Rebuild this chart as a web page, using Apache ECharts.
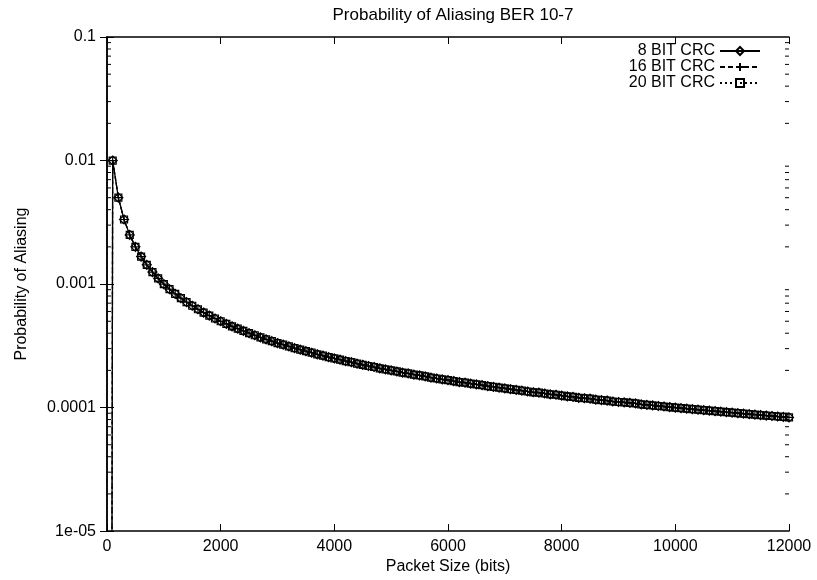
<!DOCTYPE html>
<html>
<head>
<meta charset="utf-8">
<script src="https://cdn.jsdelivr.net/npm/echarts@6/dist/echarts.min.js"></script>
<style>
  html, body { margin: 0; padding: 0; background: #fff; }
  #chart { width: 817px; height: 580px; }
</style>
</head>
<body>
<div id="chart"></div>
<script>
// packet sizes in bits (x), sampled every 100 bits
var packetSizes = [
  0, 100, 200, 300, 400, 500, 600, 700, 800, 900,
  1000, 1100, 1200, 1300, 1400, 1500, 1600, 1700, 1800, 1900,
  2000, 2100, 2200, 2300, 2400, 2500, 2600, 2700, 2800, 2900,
  3000, 3100, 3200, 3300, 3400, 3500, 3600, 3700, 3800, 3900,
  4000, 4100, 4200, 4300, 4400, 4500, 4600, 4700, 4800, 4900,
  5000, 5100, 5200, 5300, 5400, 5500, 5600, 5700, 5800, 5900,
  6000, 6100, 6200, 6300, 6400, 6500, 6600, 6700, 6800, 6900,
  7000, 7100, 7200, 7300, 7400, 7500, 7600, 7700, 7800, 7900,
  8000, 8100, 8200, 8300, 8400, 8500, 8600, 8700, 8800, 8900,
  9000, 9100, 9200, 9300, 9400, 9500, 9600, 9700, 9800, 9900,
  10000, 10100, 10200, 10300, 10400, 10500, 10600, 10700, 10800, 10900,
  11000, 11100, 11200, 11300, 11400, 11500, 11600, 11700, 11800, 11900,
  12000
];

// probability of aliasing; the first point sits far below the axis
var crc8 = [
  1e-27, 0.01, 0.005, 0.00333, 0.0025, 0.002, 0.00167, 0.00143, 0.00125, 0.00111,
  0.001, 9.09e-4, 8.33e-4, 7.69e-4, 7.14e-4, 6.67e-4, 6.25e-4, 5.88e-4, 5.56e-4, 5.26e-4,
  5.0e-4, 4.76e-4, 4.55e-4, 4.35e-4, 4.17e-4, 4.0e-4, 3.85e-4, 3.7e-4, 3.57e-4, 3.45e-4,
  3.33e-4, 3.23e-4, 3.13e-4, 3.03e-4, 2.94e-4, 2.86e-4, 2.78e-4, 2.7e-4, 2.63e-4, 2.56e-4,
  2.5e-4, 2.44e-4, 2.38e-4, 2.33e-4, 2.27e-4, 2.22e-4, 2.17e-4, 2.13e-4, 2.08e-4, 2.04e-4,
  2.0e-4, 1.96e-4, 1.92e-4, 1.89e-4, 1.85e-4, 1.82e-4, 1.79e-4, 1.75e-4, 1.72e-4, 1.69e-4,
  1.67e-4, 1.64e-4, 1.61e-4, 1.59e-4, 1.56e-4, 1.54e-4, 1.52e-4, 1.49e-4, 1.47e-4, 1.45e-4,
  1.43e-4, 1.41e-4, 1.39e-4, 1.37e-4, 1.35e-4, 1.33e-4, 1.32e-4, 1.3e-4, 1.28e-4, 1.27e-4,
  1.25e-4, 1.23e-4, 1.22e-4, 1.2e-4, 1.19e-4, 1.18e-4, 1.16e-4, 1.15e-4, 1.14e-4, 1.12e-4,
  1.11e-4, 1.1e-4, 1.09e-4, 1.08e-4, 1.06e-4, 1.05e-4, 1.04e-4, 1.03e-4, 1.02e-4, 1.01e-4,
  1.0e-4, 9.9e-5, 9.8e-5, 9.71e-5, 9.62e-5, 9.52e-5, 9.43e-5, 9.35e-5, 9.26e-5, 9.17e-5,
  9.09e-5, 9.01e-5, 8.93e-5, 8.85e-5, 8.77e-5, 8.7e-5, 8.62e-5, 8.55e-5, 8.47e-5, 8.4e-5,
  8.33e-5
];
// the 16 and 20 bit curves lie on top of the 8 bit one in the picture
var crc16 = crc8.slice();
var crc20 = crc8.slice();

var seriesNames = ['8 BIT CRC', '16 BIT CRC', '20 BIT CRC'];
var xTicks = [0, 2000, 4000, 6000, 8000, 10000, 12000];
var yTickLabels = ['1e-05', '0.0001', '0.001', '0.01', '0.1'];
var yDecades = [-5, -4, -3, -2];
var minorSteps = [2, 3, 4, 5, 6, 7, 8, 9];

var FONT = '"Liberation Sans", Arial, Helvetica, sans-serif';

function pairs(ys) {
  return packetSizes.map(function (x, i) { return [x, ys[i]]; });
}

// gnuplot style minor ticks for the log axis
var minorTicks = [];
yDecades.forEach(function (d) {
  minorSteps.forEach(function (m) {
    minorTicks.push([0, m * Math.pow(10, d)]);
  });
});

var chart = echarts.init(document.getElementById('chart'), null, { renderer: 'canvas' });

var axisLine = { show: true, lineStyle: { color: '#000', width: 1.5 } };
var majorTick = { show: true, inside: true, length: 7, lineStyle: { color: '#000', width: 1 } };
var xMax = xTicks[xTicks.length - 1];

var option = {
  backgroundColor: '#fff',
  animation: false,
  textStyle: { fontFamily: FONT, color: '#000' },
  title: {
    text: 'Probability of Aliasing BER 10-7',
    left: 448,
    top: 2,
    textAlign: 'center',
    textStyle: { fontFamily: FONT, fontSize: 17, fontWeight: 'normal', color: '#000' }
  },
  legend: {
    data: seriesNames,
    orient: 'vertical',
    align: 'right',
    right: 51,
    top: 38,
    itemWidth: 40,
    itemHeight: 10,
    itemGap: 0,
    textStyle: { fontFamily: FONT, fontSize: 16, color: '#000' }
  },
  grid: { left: 107, right: 28, top: 37, bottom: 42, containLabel: false },
  xAxis: [{
    type: 'value',
    min: 0,
    max: xMax,
    interval: 2000,
    name: 'Packet Size (bits)',
    nameLocation: 'middle',
    nameGap: 27,
    nameTextStyle: { fontFamily: FONT, fontSize: 16, color: '#000' },
    axisLine: axisLine,
    axisTick: majorTick,
    axisLabel: {
      fontFamily: FONT, fontSize: 16, color: '#000', margin: 7,
      formatter: function (v) { return String(v); }
    },
    splitLine: { show: false }
  }, {
    type: 'value',
    position: 'top',
    min: 0,
    max: xMax,
    interval: 2000,
    axisLine: axisLine,
    axisTick: majorTick,
    axisLabel: { show: false },
    splitLine: { show: false }
  }],
  yAxis: [{
    type: 'log',
    logBase: 10,
    min: 1e-5,
    max: 0.1,
    name: 'Probability of Aliasing',
    nameLocation: 'middle',
    nameGap: 77,
    nameRotate: 90,
    nameTextStyle: { fontFamily: FONT, fontSize: 16, color: '#000' },
    axisLine: axisLine,
    axisTick: majorTick,
    axisLabel: {
      fontFamily: FONT, fontSize: 16, color: '#000', margin: 11,
      showMinLabel: true, showMaxLabel: true,
      formatter: function (v) {
        var k = Math.round(Math.log10(v)) + 5;
        return yTickLabels[k] !== undefined ? yTickLabels[k] : '';
      }
    },
    splitLine: { show: false }
  }, {
    type: 'log',
    logBase: 10,
    min: 1e-5,
    max: 0.1,
    position: 'right',
    axisLine: axisLine,
    axisTick: majorTick,
    axisLabel: { show: false },
    splitLine: { show: false }
  }],
  series: [{
    name: seriesNames[0],
    type: 'line',
    data: pairs(crc8),
    symbol: 'diamond',
    symbolSize: 9,
    showAllSymbol: true,
    lineStyle: { color: '#000', width: 1.3, type: 'solid' },
    itemStyle: { color: 'rgba(0,0,0,0)', borderColor: '#000', borderWidth: 1.2 },
    z: 3
  }, {
    name: seriesNames[1],
    type: 'line',
    data: pairs(crc16),
    symbol: 'path://M0,4H8M4,0V8',
    symbolSize: 8,
    showAllSymbol: true,
    lineStyle: { color: '#000', width: 1.3, type: [5, 3] },
    itemStyle: { color: 'rgba(0,0,0,0)', borderColor: '#000', borderWidth: 1.2 },
    z: 4
  }, {
    name: seriesNames[2],
    type: 'line',
    data: pairs(crc20),
    symbol: 'rect',
    symbolSize: 7,
    showAllSymbol: true,
    lineStyle: { color: '#000', width: 1.3, type: [2, 3] },
    itemStyle: { color: 'rgba(0,0,0,0)', borderColor: '#000', borderWidth: 1.2 },
    z: 5
  }, {
    name: 'minorTicks',
    type: 'custom',
    silent: true,
    data: minorTicks,
    renderItem: function (params, api) {
      var l = api.coord([0, api.value(1)]);
      var r = api.coord([xMax, api.value(1)]);
      var st = { stroke: '#000', lineWidth: 1 };
      return {
        type: 'group',
        children: [
          { type: 'line', shape: { x1: l[0], y1: l[1], x2: l[0] + 4, y2: l[1] }, style: st },
          { type: 'line', shape: { x1: r[0], y1: r[1], x2: r[0] - 4, y2: r[1] }, style: st }
        ]
      };
    },
    z: 6
  }]
};

chart.setOption(option);
</script>
</body>
</html>
